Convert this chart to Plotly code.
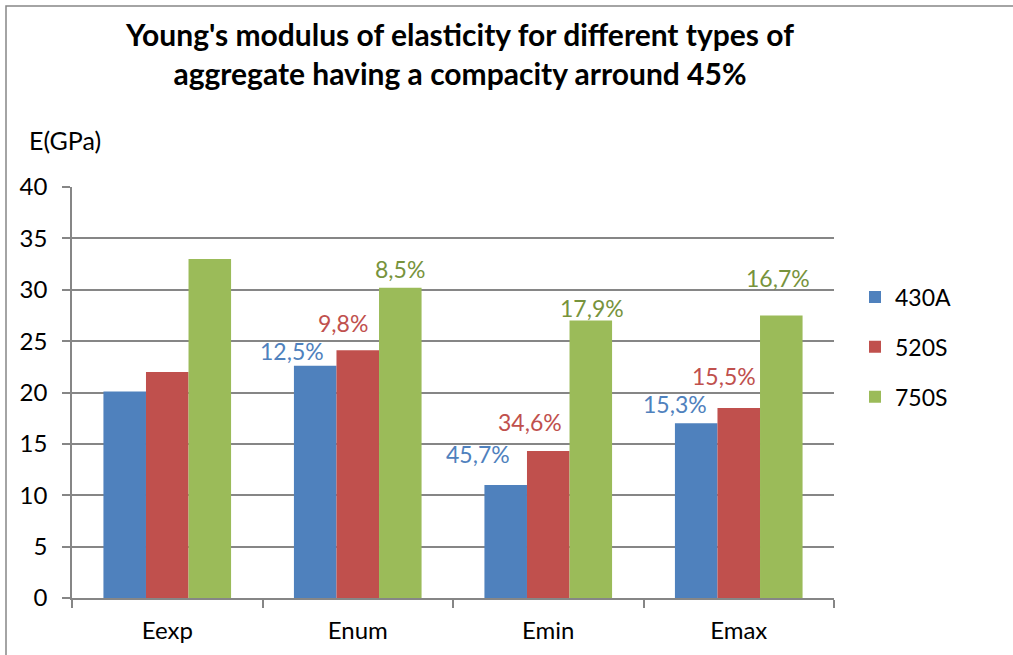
import plotly.graph_objects as go

categories = ["Eexp", "Enum", "Emin", "Emax"]
series_names = ["430A", "520S", "750S"]
values_430A = [20.1, 22.6, 11.0, 17.0]
values_520S = [22.0, 24.1, 14.3, 18.5]
values_750S = [33.0, 30.2, 27.0, 27.5]
labels_430A = ["", "12,5%", "45,7%", "15,3%"]
labels_520S = ["", "9,8%", "34,6%", "15,5%"]
labels_750S = ["", "8,5%", "17,9%", "16,7%"]
y_ticks = [0, 5, 10, 15, 20, 25, 30, 35, 40]

bar_colors = ["#4F81BD", "#C0504D", "#9BBB59"]
label_colors = ["#4F81BD", "#C0504D", "#77933C"]
FONT = "Lato, Calibri, Carlito, sans-serif"

all_values = [values_430A, values_520S, values_750S]
all_labels = [labels_430A, labels_520S, labels_750S]

W, H = 1013, 655
L, R, T, B = 72, 179, 187, 57
pw = W - L - R
ph = H - T - B

fig = go.Figure()
for k, (name, vals, col) in enumerate(zip(series_names, all_values, bar_colors)):
    fig.add_trace(go.Bar(x=categories, y=vals, name=name, legendgroup="g%d" % k,
                         marker=dict(color=col, line=dict(width=0))))

# label placement (style): per-series/per-category offsets in px
dx = [[0, -23, -28, -21], [0, -15, -18, -15], [0, 0, 1, -3]]
dy = [[0, 15, 31, 19], [0, 27, 29, 32], [0, 19, 13, 37]]
bar_px = 42.5
annotations = []
for i in range(3):
    for j, cat in enumerate(categories):
        txt = all_labels[i][j]
        if not txt:
            continue
        annotations.append(dict(
            x=cat, y=all_values[i][j], xref="x", yref="y",
            text=txt, showarrow=False,
            xshift=(i - 1) * bar_px + dx[i][j], yshift=dy[i][j],
            xanchor="center", yanchor="middle",
            font=dict(family=FONT, size=23, color=label_colors[i])))

annotations.append(dict(
    x=(27 - L) / pw, y=(H - B - 140) / ph, xref="paper", yref="paper",
    text="E(GPa)", showarrow=False, xanchor="left", yanchor="middle",
    font=dict(family=FONT, size=25, color="#000")))

fig.update_layout(
    width=W, height=H,
    margin=dict(l=L, r=R, t=T, b=B),
    paper_bgcolor="white", plot_bgcolor="white",
    barmode="group", bargap=0.33, bargroupgap=0,
    title=dict(text="<b>Young's modulus of elasticity for different types of<br>aggregate having a compacity arround 45%</b>",
               x=460 / W, xanchor="center", y=1 - 46 / H, yanchor="middle",
               font=dict(family=FONT, size=30, color="#000")),
    legend=dict(x=(855 - L) / pw, xanchor="left", y=(H - B - 347) / ph, yanchor="middle",
                font=dict(family=FONT, size=23, color="#000"),
                tracegroupgap=17, itemwidth=30, bgcolor="rgba(0,0,0,0)"),
    showlegend=True,
    annotations=annotations,
)

fig.update_xaxes(type="category", tickson="boundaries", ticks="outside", ticklen=8,
                 tickcolor="#868686", tickwidth=1.5, showline=True, linecolor="#868686",
                 linewidth=1.5, showgrid=False, ticklabelstandoff=10,
                 tickfont=dict(family=FONT, size=24, color="#000"))
fig.update_yaxes(range=[0, 40], tickvals=y_ticks, ticks="outside", ticklen=8,
                 tickcolor="#868686", tickwidth=1.5, showline=True, linecolor="#868686",
                 linewidth=1.5, showgrid=True, gridcolor="#868686", gridwidth=1.5,
                 zeroline=False, ticklabelstandoff=10,
                 tickfont=dict(family=FONT, size=24, color="#000"))

fig.add_shape(type="rect", xref="paper", yref="paper",
              x0=(6 - L) / pw, x1=(1030 - L) / pw,
              y0=(H - B - 670) / ph, y1=(H - B - 6) / ph,
              line=dict(color="#868686", width=1.5), fillcolor="rgba(0,0,0,0)", layer="below")

fig.write_html("out.html", config={"displayModeBar": False},
               post_script="document.body.style.margin='0';")
